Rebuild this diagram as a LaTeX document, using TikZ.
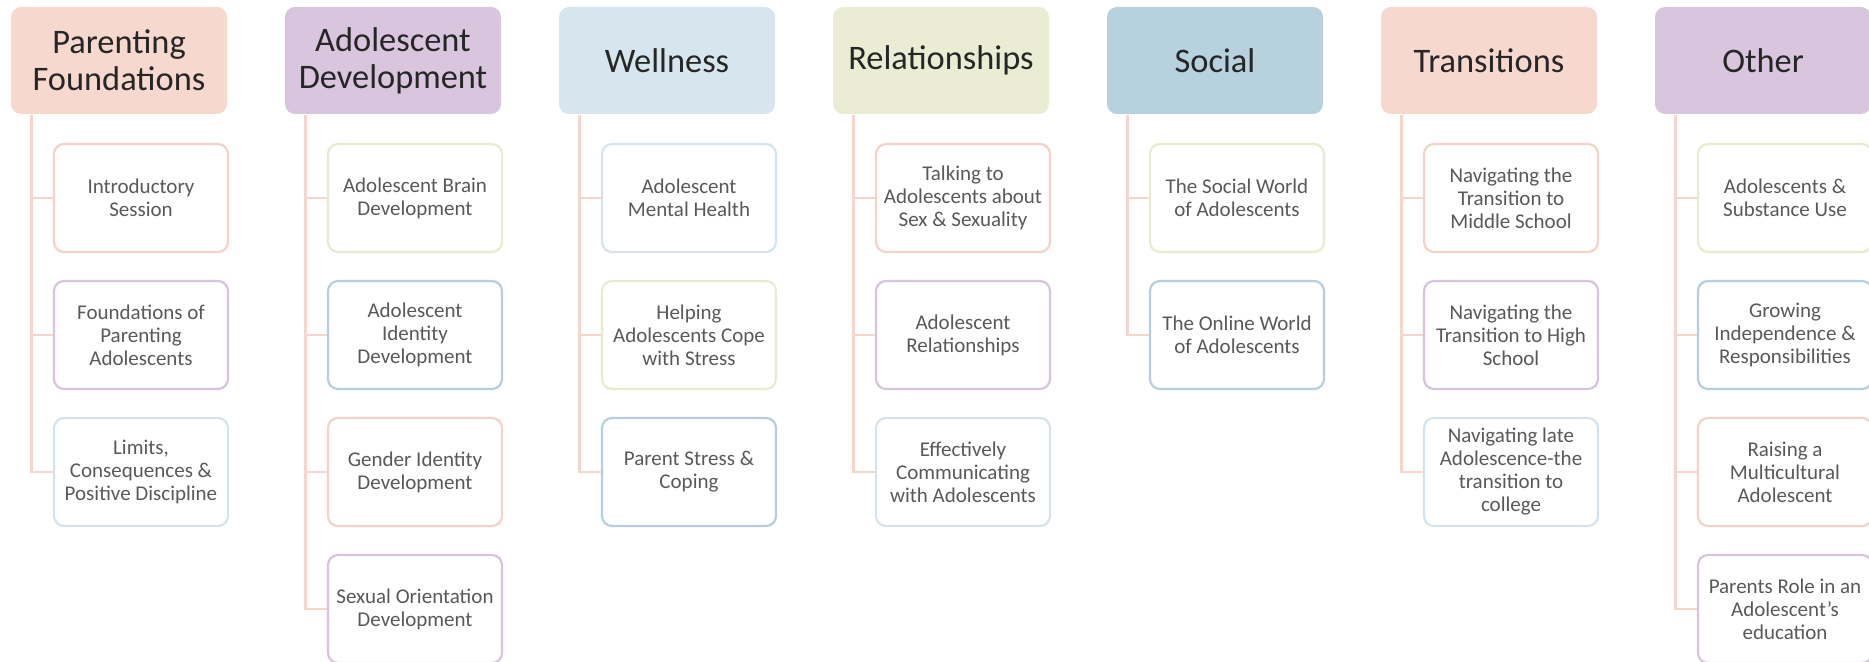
\documentclass[tikz,border=0pt]{standalone}
\usepackage{fontspec}
\setmainfont{Carlito}
\usetikzlibrary{calc}
\definecolor{hpink}{HTML}{F6D8CF}
\definecolor{hpurple}{HTML}{D9C6DE}
\definecolor{hlblue}{HTML}{D7E6EE}
\definecolor{hgreen}{HTML}{EAEDD3}
\definecolor{hblue}{HTML}{B7D1DE}
\definecolor{bpink}{HTML}{F4D2C8}
\definecolor{bpurple}{HTML}{D8C3DD}
\definecolor{blblue}{HTML}{D5E4EC}
\definecolor{bgreen}{HTML}{E8ECCF}
\definecolor{bblue}{HTML}{B6CFDE}
\definecolor{linkc}{HTML}{F5D5CC}
\definecolor{hdtext}{HTML}{262626}
\definecolor{subtext}{HTML}{595959}
\tikzset{
  head/.style={fill=#1, rounded corners=5pt, minimum width=108pt, minimum height=53.5pt,
    inner sep=0pt, align=center, font=\fontsize{17.2}{18.5}\selectfont, text=hdtext},
  sub/.style={draw=#1, line width=1.1pt, fill=white, rounded corners=5pt, minimum width=87pt,
    minimum height=54pt, inner sep=0pt, align=center, font=\fontsize{10.5}{11.5}\selectfont, text=subtext},
  link/.style={draw=linkc, line width=1.2pt},
}
\begin{document}
\begin{tikzpicture}[x=0.5pt,y=-0.5pt]
\useasboundingbox (0,0) rectangle (1869,662);
\clip (0,0) rectangle (1869,662);
% headers
\node[head=hpink]   (h1) at (119,60.5)  {Parenting\\Foundations};
\node[head=hpurple] (h2) at (393,60.5)  {Adolescent\\Development};
\node[head=hlblue]  (h3) at (667,60.5)  {Wellness};
\node[head=hgreen]  (h4) at (941,60.5)  {Relationships};
\node[head=hblue]   (h5) at (1215,60.5) {Social};
\node[head=hpink]   (h6) at (1489,60.5) {Transitions};
\node[head=hpurple] (h7) at (1763,60.5) {Other};
% spines
\foreach \i in {1,...,7}{\coordinate (s\i) at ($(h\i.south west)+(21,1)$);}
% column 1
\node[sub=bpink]   (c11) at (141,198) {Introductory\\Session};
\node[sub=bpurple] (c12) at (141,335) {Foundations of\\Parenting\\Adolescents};
\node[sub=blblue]  (c13) at (141,472) {Limits,\\Consequences \&\\Positive Discipline};
% column 2
\node[sub=bgreen]  (c21) at (415,198) {Adolescent Brain\\Development};
\node[sub=bblue]   (c22) at (415,335) {Adolescent\\Identity\\Development};
\node[sub=bpink]   (c23) at (415,472) {Gender Identity\\Development};
\node[sub=bpurple] (c24) at (415,609) {Sexual Orientation\\Development};
% column 3
\node[sub=blblue]  (c31) at (689,198) {Adolescent\\Mental Health};
\node[sub=bgreen]  (c32) at (689,335) {Helping\\Adolescents Cope\\with Stress};
\node[sub=bblue]   (c33) at (689,472) {Parent Stress \&\\Coping};
% column 4
\node[sub=bpink]   (c41) at (963,198) {Talking to\\Adolescents about\\Sex \& Sexuality};
\node[sub=bpurple] (c42) at (963,335) {Adolescent\\Relationships};
\node[sub=blblue]  (c43) at (963,472) {Effectively\\Communicating\\with Adolescents};
% column 5
\node[sub=bgreen]  (c51) at (1237,198) {The Social World\\of Adolescents};
\node[sub=bblue]   (c52) at (1237,335) {The Online World\\of Adolescents};
% column 6
\node[sub=bpink]   (c61) at (1511,198) {Navigating the\\Transition to\\Middle School};
\node[sub=bpurple] (c62) at (1511,335) {Navigating the\\Transition to High\\School};
\node[sub=blblue]  (c63) at (1511,472) {Navigating late\\Adolescence-the\\transition to\\college};
% column 7
\node[sub=bgreen]  (c71) at (1785,198) {Adolescents \&\\Substance Use};
\node[sub=bblue]   (c72) at (1785,335) {Growing\\Independence \&\\Responsibilities};
\node[sub=bpink]   (c73) at (1785,472) {Raising a\\Multicultural\\Adolescent};
\node[sub=bpurple] (c74) at (1785,609) {Parents Role in an\\Adolescent’s\\education};
% connectors
\foreach \c/\n in {1/3,2/4,3/3,4/3,5/2,6/3,7/4}{
  \foreach \j in {1,...,\n}{
    \draw[link] (s\c) |- (c\c\j.west);
  }
}
\end{tikzpicture}
\end{document}
